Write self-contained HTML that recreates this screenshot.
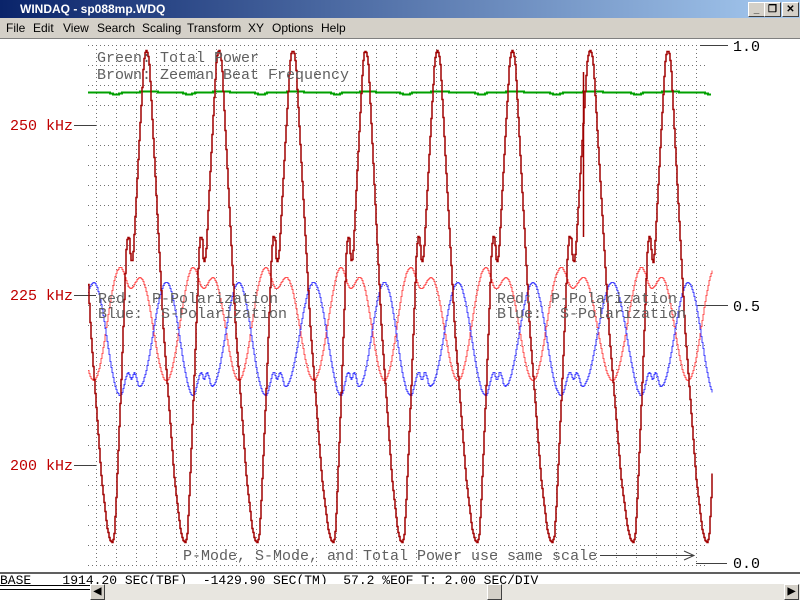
<!DOCTYPE html>
<html><head><meta charset="utf-8"><style>
body{margin:0;width:800px;height:600px;overflow:hidden;background:#fff;font-family:"Liberation Sans",sans-serif;position:relative}
#title{position:absolute;left:0;top:0;width:800px;height:18px;background:linear-gradient(to right,#0a246a,#a6caf0)}
#title span{position:absolute;left:20px;top:2px;color:#fff;font-weight:bold;font-size:12px}
.btn{position:absolute;top:2px;width:15px;height:13px;background:#d4d0c8;border:1px solid;border-color:#fff #404040 #404040 #fff;font-size:10px;text-align:center;line-height:13px;font-weight:bold}
#menu{position:absolute;left:0;top:18px;width:800px;height:20px;background:#d4d0c8;border-bottom:1px solid #808080}
#menu span{position:absolute;top:3px;font-size:12px;color:#000}
#status{position:absolute;left:0;top:572px;width:800px;border-top:2px solid #606060;font-family:"Liberation Mono",monospace;font-size:13px;line-height:13px;white-space:pre;color:#000}
#sb{position:absolute;left:90px;top:584px;width:710px;height:16px;background:#e8e6e0}
</style></head><body>
<div id="title"><span>WINDAQ - sp088mp.WDQ</span>
<div class="btn" style="left:748px">_</div><div class="btn" style="left:764px">❐</div><div class="btn" style="left:782px">✕</div></div>
<div id="menu"><span style="left:6px">File</span><span style="left:33px">Edit</span><span style="left:63px">View</span><span style="left:97px">Search</span><span style="left:142px">Scaling</span><span style="left:187px">Transform</span><span style="left:248px">XY</span><span style="left:272px">Options</span><span style="left:321px">Help</span></div>
<svg id="plot" width="800" height="600" style="position:absolute;left:0;top:0" xmlns="http://www.w3.org/2000/svg">
<g id="grid" stroke="#707070" stroke-width="1" stroke-dasharray="1 3"></g>
<g font-family="Liberation Mono, monospace" font-size="15" fill="#c00000">
<text x="10" y="130">250 kHz</text><text x="10" y="300">225 kHz</text><text x="10" y="470">200 kHz</text></g>
<g stroke="#404040" stroke-width="1">
<line x1="74" y1="125.5" x2="96" y2="125.5"/><line x1="74" y1="295.5" x2="96" y2="295.5"/><line x1="74" y1="465.5" x2="96" y2="465.5"/>
<line x1="700" y1="45.5" x2="728" y2="45.5"/><line x1="697" y1="305.5" x2="728" y2="305.5"/><line x1="696" y1="563.5" x2="727" y2="563.5"/>
<line x1="600" y1="555.5" x2="694" y2="555.5"/><polyline points="684,551 694,555.5 684,560" fill="none"/></g>
<g font-family="Liberation Mono, monospace" font-size="15" fill="#000">
<text x="733" y="51">1.0</text><text x="733" y="311">0.5</text><text x="733" y="568">0.0</text></g>
<path id="green" fill="none" stroke="#00a000" stroke-width="2"/>
<path id="red" fill="none" stroke="#ff5050" stroke-width="1"/>
<path id="blue" fill="none" stroke="#4040ff" stroke-width="1"/>
<path id="brown" fill="none" stroke="#a00000" stroke-width="1.5"/>
<path d="M583.5,237 L583.5,72" fill="none" stroke="#a00000" stroke-width="1.5"/>
<g font-family="Liberation Mono, monospace" font-size="15" fill="#606060">
<text x="97" y="62">Green: Total Power</text><text x="97" y="79">Brown: Zeeman Beat Frequency</text>
<text x="98" y="303" xml:space="preserve">Red:  P-Polarization</text><text x="98" y="318" xml:space="preserve">Blue:  S-Polarization</text>
<text x="497" y="303" xml:space="preserve">Red:  P-Polarization</text><text x="497" y="318" xml:space="preserve">Blue:  S-Polarization</text>
<text x="183" y="560">P-Mode, S-Mode, and Total Power use same scale</text></g>
</svg>
<div id="status">BASE    1914.20 SEC(TBF)  -1429.90 SEC(TM)  57.2 %EOF T: 2.00 SEC/DIV</div>
<div style="position:absolute;left:0;top:585px;width:90px;height:3px;border-top:1px solid #000;border-bottom:1px solid #000"></div>
<div id="sb">
<div class="btn" style="left:0;top:0;width:13px;height:14px">◀</div>
<div class="btn" style="left:397px;top:0;width:13px;height:14px"></div>
<div class="btn" style="left:694px;top:0;width:13px;height:14px">▶</div></div>
<script>
var NS="http://www.w3.org/2000/svg",g=document.getElementById('grid');
function ln(x1,y1,x2,y2){var l=document.createElementNS(NS,'line');l.setAttribute('x1',x1);l.setAttribute('y1',y1);l.setAttribute('x2',x2);l.setAttribute('y2',y2);g.appendChild(l);}
for(var y=45;y<=565;y+=20)ln(88,y+0.5,708,y+0.5);
for(var x=96;x<=696;x+=20)ln(x+0.5,45,x+0.5,565);
var T=[40,112,185,257,333,402,477,552,633,707,780];
function ph(x){for(var i=0;i<T.length-1;i++){if(x<T[i+1])return (x-T[i])/(T[i+1]-T[i]);}return 0;}
function lin(keys,f){
 for(var i=0;i<keys.length-1;i++){if(f>=keys[i][0]&&f<=keys[i+1][0]){var t=(f-keys[i][0])/(keys[i+1][0]-keys[i][0]);return keys[i][1]+(keys[i+1][1]-keys[i][1])*t;}}
 return keys[0][1];}
function cosi(keys,f){
 for(var i=0;i<keys.length-1;i++){if(f>=keys[i][0]&&f<=keys[i+1][0]){var t=(f-keys[i][0])/(keys[i+1][0]-keys[i][0]);var s=(1-Math.cos(Math.PI*t))/2;return keys[i][1]+(keys[i+1][1]-keys[i][1])*s;}}
 return keys[0][1];}
var BK=[[0,542],[0.025,536],[0.05,505],[0.12,385],[0.19,250],[0.21,236],[0.235,238],[0.25,258],[0.27,262],[0.29,250],[0.37,140],[0.43,62],[0.45,52],[0.47,50],[0.49,54],[0.51,66],[0.57,150],[0.7,330],[0.85,478],[0.93,528],[0.97,540],[1,542]];
var RK=[[-0.26,380],[0.11,267],[0.25,288],[0.38,277],[0.74,380],[1.11,267]];
var BL=[[-0.26,282],[0.11,395],[0.22,372],[0.26,379],[0.30,372],[0.37,386],[0.74,282],[1.11,395]];
function wrap(f,a){while(f<a)f+=1;while(f>a+1)f-=1;return f;}
function build(id,fn,x0,x1){var d='',py=null;for(var x=x0;x<=x1;x++){var y=Math.round(fn(ph(x)))+0.5;if(py===null)d='M'+x+','+y;else d+=' L'+x+','+py+' L'+x+','+y;py=y;}document.getElementById(id).setAttribute('d',d);}
build('brown',function(f){return lin(BK,f);},88,712);
build('red',function(f){return cosi(RK,wrap(f,-0.26));},88,712);
build('blue',function(f){return cosi(BL,wrap(f,-0.26));},88,712);
build('green',function(f){return 92+2.5*Math.exp(-Math.pow((f<0.5?f:f-1)-0.05,2)/0.004)-1*Math.exp(-Math.pow(f-0.5,2)/0.02);},88,711);
</script>
</body></html>
